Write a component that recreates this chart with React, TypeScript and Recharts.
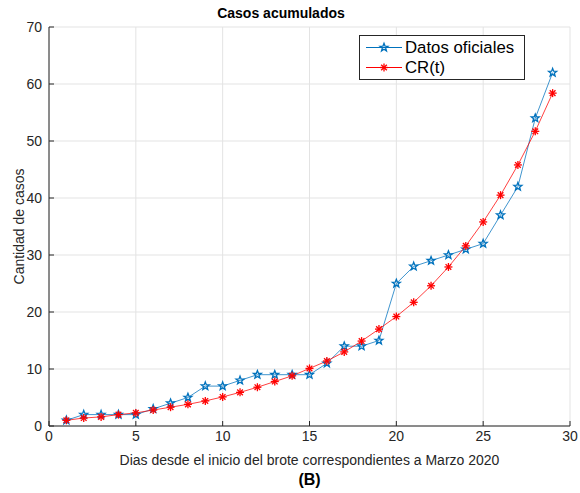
import React from "react";
import { CartesianGrid, Label, Line, LineChart, XAxis, YAxis } from "recharts";

const dias = [
  1, 2, 3, 4, 5, 6, 7, 8, 9, 10, 11, 12, 13, 14, 15, 16, 17, 18, 19, 20, 21,
  22, 23, 24, 25, 26, 27, 28, 29,
];
const datosOficiales = [
  1, 2, 2, 2, 2, 3, 4, 5, 7, 7, 8, 9, 9, 9, 9, 11, 14, 14, 15, 25, 28, 29, 30,
  31, 32, 37, 42, 54, 62,
];
const crT = [
  1.0, 1.4, 1.6, 2.0, 2.3, 2.8, 3.3, 3.8, 4.4, 5.1, 5.9, 6.8, 7.8, 8.8, 10.1,
  11.4, 13.0, 14.9, 17.0, 19.2, 21.7, 24.6, 27.9, 31.6, 35.8, 40.5, 45.8, 51.7,
  58.4,
];
const xTicks = [0, 5, 10, 15, 20, 25, 30];
const yTicks = [0, 10, 20, 30, 40, 50, 60, 70];

const data = dias.map((d, i) => ({
  dia: d,
  oficiales: datosOficiales[i],
  cr: crT[i],
}));

const FONT = '"Liberation Sans", Arial, Helvetica, sans-serif';
const AXIS = "#262626";
const BLUE = "#0072BD";
const RED = "#ff0000";

function starPoints(cx: number, cy: number, r: number) {
  const pts: string[] = [];
  for (let k = 0; k < 10; k++) {
    const rad = k % 2 === 0 ? r : r * 0.42;
    const a = -Math.PI / 2 + (k * Math.PI) / 5;
    pts.push(`${cx + rad * Math.cos(a)},${cy + rad * Math.sin(a)}`);
  }
  return pts.join(" ");
}

function StarDot({ cx, cy }: any) {
  if (cx == null || cy == null) return null;
  return (
    <polygon
      points={starPoints(cx, cy, 4.2)}
      fill="none"
      stroke={BLUE}
      strokeWidth={1.3}
    />
  );
}

function AsteriskDot({ cx, cy }: any) {
  if (cx == null || cy == null) return null;
  const r = 4;
  const angles = [0, 45, 90, 135];
  return (
    <g>
      {angles.map((deg) => {
        const a = (deg * Math.PI) / 180;
        return (
          <line
            key={deg}
            x1={cx - r * Math.cos(a)}
            y1={cy - r * Math.sin(a)}
            x2={cx + r * Math.cos(a)}
            y2={cy + r * Math.sin(a)}
            stroke={RED}
            strokeWidth={1.3}
          />
        );
      })}
    </g>
  );
}

function LegendBox() {
  return (
    <div
      style={{
        position: "absolute",
        left: 359,
        top: 35,
        width: 166,
        height: 45,
        border: "1px solid #262626",
        background: "#fff",
        fontFamily: FONT,
        fontSize: 16.8,
        color: "#000",
        boxSizing: "border-box",
      }}
    >
      {[
        { label: "Datos oficiales", color: BLUE, Dot: StarDot },
        { label: "CR(t)", color: RED, Dot: AsteriskDot },
      ].map(({ label, color, Dot }, i) => (
        <div
          key={label}
          style={{
            position: "absolute",
            left: 4,
            top: 2 + i * 20,
            height: 19,
            display: "flex",
            alignItems: "center",
          }}
        >
          <svg width={40} height={19}>
            <line x1={2} y1={9.5} x2={38} y2={9.5} stroke={color} strokeWidth={1} />
            <Dot cx={20} cy={9.5} />
          </svg>
          <span style={{ marginLeft: 1 }}>{label}</span>
        </div>
      ))}
    </div>
  );
}

export default function App() {
  return (
    <div
      style={{
        position: "absolute",
        left: 0,
        top: 0,
        width: 580,
        height: 493,
        background: "#fff",
        fontFamily: FONT,
      }}
    >
      <div
        style={{
          position: "absolute",
          left: 181,
          width: 200,
          top: 5,
          textAlign: "center",
          fontWeight: "bold",
          fontSize: 14,
          color: "#000",
        }}
      >
        Casos acumulados
      </div>
      <LineChart
        width={580}
        height={493}
        data={data}
        margin={{ top: 27, right: 10, bottom: 0, left: 0 }}
      >
        <CartesianGrid stroke="#e3e3e3" strokeWidth={1} />
        <XAxis
          dataKey="dia"
          type="number"
          domain={[0, 30]}
          ticks={xTicks}
          height={67}
          stroke={AXIS}
          tickSize={-5}
          tickMargin={10}
          tick={{ fill: "#262626", fontSize: 14, fontFamily: FONT }}
        >
          <Label
            value="Dias desde el inicio del brote correspondientes a Marzo 2020"
            position="insideTop"
            offset={29}
            style={{ fill: "#262626", fontSize: 14, fontFamily: FONT }}
          />
        </XAxis>
        <XAxis
          xAxisId="top"
          orientation="top"
          type="number"
          domain={[0, 30]}
          ticks={xTicks}
          height={0}
          stroke={AXIS}
          tickSize={-5}
          tickFormatter={() => ""}
        />
        <YAxis
          type="number"
          domain={[0, 70]}
          ticks={yTicks}
          width={49}
          stroke={AXIS}
          tickSize={-5}
          tickMargin={12}
          tick={{ fill: "#262626", fontSize: 14, fontFamily: FONT }}
        >
          <Label
            value="Cantidad de casos"
            angle={-90}
            position="insideLeft"
            offset={19}
            style={{
              fill: "#262626",
              fontSize: 14,
              fontFamily: FONT,
              textAnchor: "middle",
            }}
          />
        </YAxis>
        <YAxis
          yAxisId="right"
          orientation="right"
          type="number"
          domain={[0, 70]}
          ticks={yTicks}
          width={0}
          stroke={AXIS}
          tickSize={-5}
          tickFormatter={() => ""}
        />
        <Line
          dataKey="oficiales"
          stroke={BLUE}
          strokeOpacity={0.75}
          strokeWidth={1}
          dot={<StarDot />}
          activeDot={false}
          isAnimationActive={false}
        />
        <Line
          dataKey="cr"
          stroke={RED}
          strokeOpacity={0.75}
          strokeWidth={1}
          dot={<AsteriskDot />}
          activeDot={false}
          isAnimationActive={false}
        />
      </LineChart>
      <LegendBox />
      <div
        style={{
          position: "absolute",
          left: 49,
          width: 521,
          top: 471,
          textAlign: "center",
          fontWeight: "bold",
          fontSize: 16,
          color: "#000",
        }}
      >
        (B)
      </div>
    </div>
  );
}
